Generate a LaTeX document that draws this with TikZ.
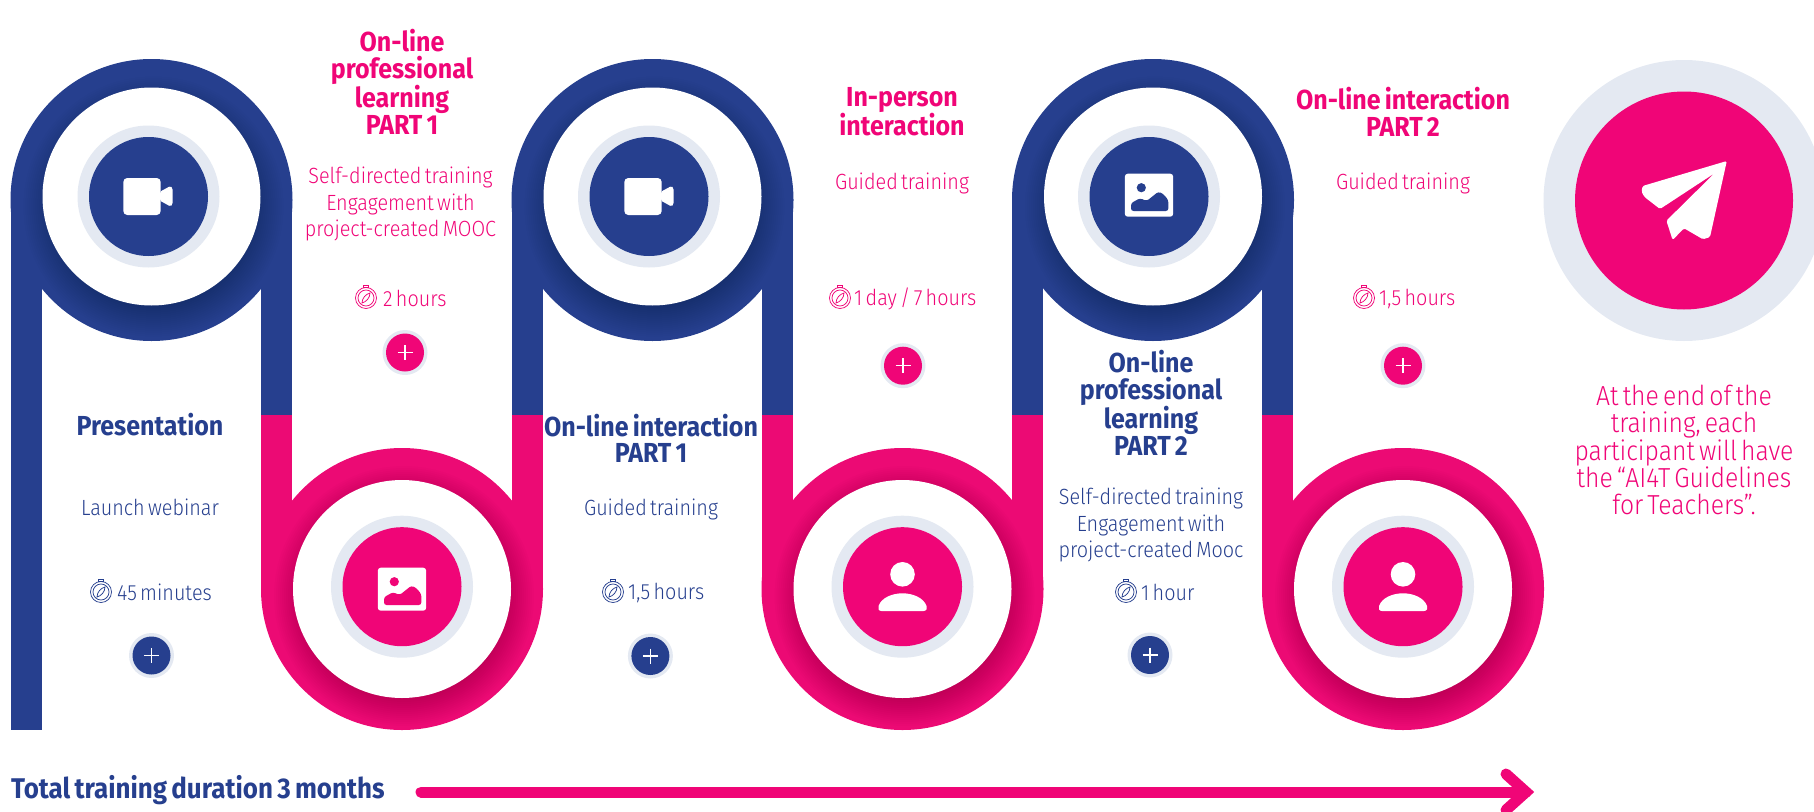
\documentclass[tikz,border=0pt]{standalone}
\usepackage{fontspec}
\newfontfamily\bodyf{Fira Sans Light}[FakeStretch=0.9,WordSpace=0.6]
\newfontfamily\headf{Fira Sans}[FakeStretch=0.91,WordSpace=0.7,UprightFont=* Bold]
\definecolor{cblue}{HTML}{263F8E}
\definecolor{cpink}{HTML}{F00577}
\definecolor{cband}{HTML}{EC0A74}
\definecolor{clight}{HTML}{E4E9F2}
\tikzset{
  x=1pt,y=-1pt,
  bodytext/.style={inner sep=0pt,align=center,font=\bodyf\fontsize{22}{26.6}\selectfont},
  timetext/.style={inner sep=0pt,anchor=west,font=\bodyf\fontsize{22}{26}\selectfont},
  headtext/.style={inner sep=0pt,align=center,font=\headf\fontsize{27.5}{26.6}\selectfont},
  endtext/.style={inner sep=0pt,align=center,font=\bodyf\fontsize{27.5}{27.2}\selectfont},
  disc/.style={circle,inner sep=0pt,minimum size=#1},
}
% band: cx, cy outer, cy inner, colour, shadow drop
\newcommand\bandloop[5]{%
  \fill[#4] (#1,#2) circle (141pt);
  \foreach \rr in {100,102,...,130}{\fill[black,opacity=.011] (#1+2,#3+#5) circle (\rr pt);}
  \fill[white] (#1,#3) circle (109pt);
}
\newcommand\icondisc[4]{% x,y,colour,name
  \node[disc=142pt,fill=clight] at (#1,#2) {};
  \node[disc=119pt,fill=#3] (#4) at (#1,#2) {};
}
\newcommand\camicon[2]{\begin{scope}[shift={(#1,#2)}]
  \fill[white,rounded corners=4pt] (-24.7,-18.5) rectangle (12.7,18.5);
  \fill[white,rounded corners=1.5pt] (12,-4.8) -- (22.5,-10.5) -- (24.5,-8.5) -- (24.5,8) -- (22.5,10) -- (12,4.2) -- cycle;
\end{scope}}
\newcommand\picicon[3]{\begin{scope}[shift={(#1,#2)}]
  \fill[white,rounded corners=3pt] (-24.2,-21.5) rectangle (24.2,21.5);
  \fill[#3] (-7.7,-7.5) circle (4.6pt);
  \fill[#3,rounded corners=2.5pt] (-18,15.8) -- (-18,8) -- (-9,3) -- (-2.3,5.8) -- (9.3,-3.5) -- (14,-1.5) -- (19.3,4.8) -- (19.3,15.8) -- cycle;
\end{scope}}
\newcommand\usericon[2]{\begin{scope}[shift={(#1,#2)}]
  \fill[white] (0,-12.2) circle (12.3pt);
  \fill[white] (-21,24.5) -- (21,24.5) .. controls (24,24.5) and (25,22) .. (24,19.5) .. controls (21,11) and (10,6.8) .. (0,6.8) .. controls (-10,6.8) and (-21,11) .. (-24,19.5) .. controls (-25,22) and (-24,24.5) .. (-21,24.5) -- cycle;
\end{scope}}
\newcommand\plusbtn[4]{% x,y,colour,name
  \node[disc=45pt,fill=clight] at (#1,#2) {};
  \node[disc=38pt,fill=#3] (#4) at (#1,#2) {};
  \draw[white,line width=1.5pt] (#1-7.5,#2) -- (#1+7.5,#2) (#1,#2-7.5) -- (#1,#2+7.5);
}
\newcommand\timer[3]{\begin{scope}[shift={(#1,#2)},#3,line width=.75pt]
  \draw (0,1) circle (10.5pt);
  \draw (0,1) circle (8pt);
  \draw (-2.2,-9.4) rectangle (2.2,-11.6);
  \draw (-4,6) .. controls (-4,1) and (0,-3) .. (4,-4) .. controls (4,1) and (0,5) .. (-4,6) -- cycle;
\end{scope}}
\begin{document}
\begin{tikzpicture}
\useasboundingbox (0,0) rectangle (1814,811);
% bars
\fill[cblue] (11,200) rectangle (42,730);
\foreach \xa in {261,512,762,1012,1262}{
  \fill[cblue] (\xa,200) rectangle (\xa+31,415);
  \fill[cband] (\xa,415) rectangle (\xa+31,589);
}
% loops
\bandloop{151.5}{200}{196.5}{cblue}{10}
\bandloop{652.5}{200}{196.5}{cblue}{10}
\bandloop{1153}{200}{196.5}{cblue}{10}
\bandloop{402}{589}{589}{cband}{7}
\bandloop{902.5}{589}{589}{cband}{7}
\bandloop{1403}{589}{589}{cband}{7}
% icon discs
\icondisc{148.5}{196.5}{cblue}{d1}
\icondisc{649}{196.5}{cblue}{d3}
\icondisc{1149}{196.5}{cblue}{d5}
\icondisc{402}{586.7}{cpink}{d2}
\icondisc{902.5}{586.7}{cpink}{d4}
\icondisc{1403}{586.7}{cpink}{d6}
\camicon{148}{196.5}
\camicon{649}{196.5}
\picicon{1149}{195.2}{cblue}
\picicon{402}{589.2}{cpink}
\usericon{902.5}{586.5}
\usericon{1403}{586.5}
% final
\node[disc=281pt,fill=clight] at (1684,200.5) {};
\node[disc=218pt,fill=cpink] (d7) at (1684,200.5) {};
\fill[white,rounded corners=1.5pt] (1726.8,161) -- (1642.6,186) -- (1641.5,191.7) -- (1644.5,197) -- (1660,209) -- (1714.4,173.3) -- (1666.4,220.7) -- (1672.6,240) -- (1684,228.3) -- (1703,239.3) -- (1710,237) -- cycle;
% plus
\plusbtn{151.5}{655.5}{cblue}{p1}
\plusbtn{405}{352.5}{cpink}{p2}
\plusbtn{650.4}{656}{cblue}{p3}
\plusbtn{903}{365.7}{cpink}{p4}
\plusbtn{1150}{655}{cblue}{p5}
\plusbtn{1403}{365.7}{cpink}{p6}
% timers
\timer{101}{591}{cblue}
\timer{366}{297}{cpink}
\timer{613}{591}{cblue}
\timer{840}{297}{cpink}
\timer{1126}{591}{cblue}
\timer{1364}{297}{cpink}
% texts
\node[headtext,text=cblue] (t1) at (150,425) {Presentation};
\node[bodytext,text=cblue] (t1b) at (150,507) {Launch webinar};
\node[timetext,text=cblue] (t1c) at (117,592) {45 minutes};

\node[headtext,text=cpink] (t2) at (402,82) {On-line\\professional\\learning\\PART 1};
\node[bodytext,text=cpink] (t2b) at (400.5,204) {Self-directed training\\Engagement with\\project-created MOOC};
\node[timetext,text=cpink] (t2c) at (383,298) {2 hours};

\node[headtext,text=cblue] (t3) at (651,438.5) {On-line interaction\\PART 1};
\node[bodytext,text=cblue] (t3b) at (651,509) {Guided training};
\node[timetext,text=cblue] (t3c) at (628,593) {1,5 hours};

\node[headtext,text=cpink] (t4) at (902,111.5) {In-person\\interaction};
\node[bodytext,text=cpink] (t4b) at (902,183) {Guided training};
\node[timetext,text=cpink] (t4c) at (854,299) {1 day / 7 hours};

\node[headtext,text=cblue] (t5) at (1151,403) {On-line\\professional\\learning\\PART 2};
\node[bodytext,text=cblue] (t5b) at (1151,525) {Self-directed training\\Engagement with\\project-created Mooc};
\node[timetext,text=cblue] (t5c) at (1141,592) {1 hour};

\node[headtext,text=cpink] (t6) at (1403,112) {On-line interaction\\PART 2};
\node[bodytext,text=cpink] (t6b) at (1403,183) {Guided training};
\node[timetext,text=cpink] (t6c) at (1379,299) {1,5 hours};

\node[endtext,text=cpink] (t7) at (1684,450) {At the end of the\\training, each\\participant will have\\the “AI4T Guidelines\\for Teachers”.};

\node[inner sep=0pt,anchor=west,text=cblue,font=\headf\fontsize{28.5}{26}\selectfont] (total) at (11,790) {Total training duration 3 months};
% arrow
\coordinate (ar0) at (421,792);
\coordinate (ar1) at (1526,792);
\coordinate (arA) at (1506,774);
\coordinate (arB) at (1506,810);
\draw[cpink,line width=11pt,line cap=round] (ar0) -- (ar1);
\draw[cpink,line width=11pt,line cap=round,line join=miter] (arA) -- (ar1) -- (arB);
\end{tikzpicture}
\end{document}
